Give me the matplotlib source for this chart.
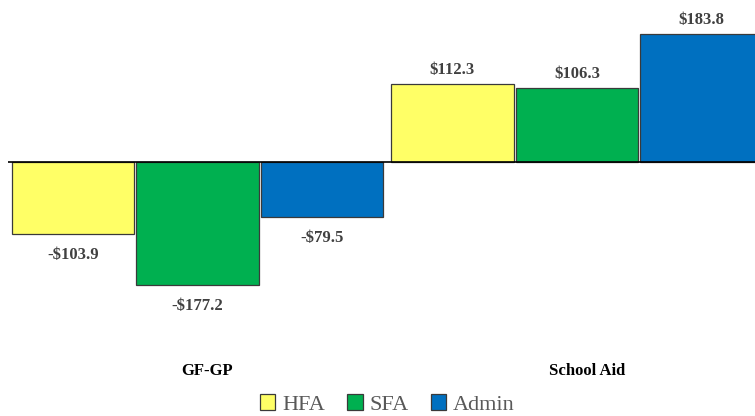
import matplotlib.pyplot as plt
import matplotlib.transforms as mtransforms
import numpy as np

# Budget change by fund source ($ millions)
groups = ['GF-GP', 'School Aid']
series = ['HFA', 'SFA', 'Admin']
hfa = [-103.9, 112.3]
sfa = [-177.2, 106.3]
admin = [-79.5, 183.8]
colors = ['#FFFF66', '#00B050', '#0070C0']

plt.rcParams['font.family'] = ['Liberation Serif', 'DejaVu Serif']

fig = plt.figure(figsize=(7.55, 4.16), dpi=100)
ax = fig.add_axes([8 / 755, 1 - 330 / 416, 1 - 8 / 755, 330 / 416])

x = np.arange(len(groups))
step = 0.328
width = 0.322
text_col = '#404040'

for i, (name, vals) in enumerate(zip(series, [hfa, sfa, admin])):
    pos = x + (i - 1) * step
    ax.bar(pos, vals, width, color=colors[i], edgecolor='#3a3a3a',
           linewidth=0.9, label=name, zorder=2)
    for px, v in zip(pos, vals):
        lbl = f'${v:.1f}' if v >= 0 else f'-${-v:.1f}'
        off = 4 if v >= 0 else -9
        ax.annotate(lbl, (px, v), xytext=(0, off), textcoords='offset points',
                    ha='center', va='bottom' if v >= 0 else 'top',
                    fontsize=12, fontweight='bold', color=text_col)

ax.axhline(0, color='black', linewidth=1.2, zorder=3)
ax.set_xlim(-0.499, 1.469)
ax.set_ylim(-(330 - 162) / 0.6964, 162 / 0.6964)

for s in ax.spines.values():
    s.set_visible(False)
ax.set_yticks([])
ax.set_xticks(x)
ax.set_xticklabels(groups, fontsize=12, fontweight='bold', color='black')
ax.tick_params(axis='x', length=0, pad=24)
shift = mtransforms.ScaledTranslation(0.1, 0, fig.dpi_scale_trans)
for t in ax.get_xticklabels():
    t.set_transform(t.get_transform() + shift)

fig.legend(loc='lower center', ncol=3, frameon=False, fontsize=16,
           bbox_to_anchor=(0.513, -0.045), handlelength=0.7, handleheight=0.7,
           handletextpad=0.3, columnspacing=1.0, labelcolor='#595959')

fig.savefig('out.png', dpi=100)
